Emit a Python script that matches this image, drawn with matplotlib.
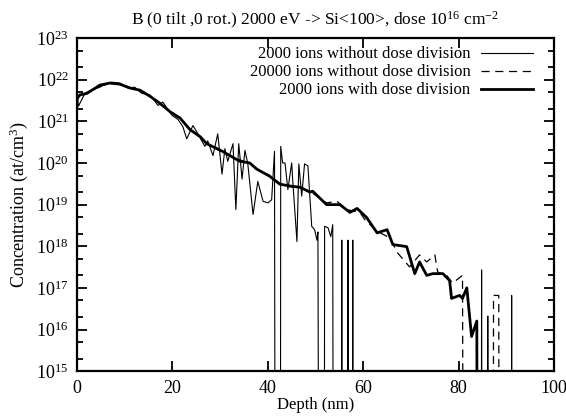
import numpy as np
import matplotlib
matplotlib.use("Agg")
import matplotlib.pyplot as plt
from matplotlib.ticker import LogLocator, FixedLocator, NullFormatter

plt.rcParams['font.family'] = ['Liberation Serif', 'DejaVu Serif']
plt.rcParams['mathtext.fontset'] = 'custom'
plt.rcParams['mathtext.rm'] = 'Liberation Serif'
plt.rcParams['mathtext.it'] = 'Liberation Serif:italic'

# 2000 ions with dose division (thick)
depth_div = [0, 0.6, 2.1, 4.8, 6.9, 9.0, 11.1, 13.2, 15.3, 17.4, 19.5, 21.6, 23.7, 25.8,
             27.2, 30.5, 34.1, 36.2, 37.7, 40.4, 42.5, 44.6, 46.8, 48.8, 49.4, 52.3, 55.1,
             57.2, 58.7, 60.7, 62.9, 65.0, 66.2, 69.1, 70.8, 71.8, 73.3, 74.6, 76.7, 78.1,
             78.5, 80.2, 80.8, 81.7, 82.7, 83.8, 84.0, 100]
conc_div = [3.5e21, 4.3e21, 4.7e21, 7.4e21, 8.3e21, 7.8e21, 6.3e21, 5.6e21, 4.0e21, 2.7e21,
            1.7e21, 1.2e21, 6.3e20, 4.3e20, 2.9e20, 1.9e20, 1.1e20, 1.0e20, 7.1e19, 4.8e19,
            3.1e19, 2.8e19, 2.6e19, 2.0e19, 2.1e19, 1.0e19, 1.0e19, 6.5e18, 8.1e18, 4.9e18,
            2.1e18, 2.5e18, 1.1e18, 9.8e17, 2.2e17, 4.2e17, 2.0e17, 2.2e17, 2.2e17, 1.5e17,
            5.6e16, 6.6e16, 5.6e16, 1.0e17, 6.8e15, 1.6e16, 0, 0]

# 20000 ions without dose division (dashed)
depth_20k = [0, 0.6, 2.1, 4.8, 6.9, 9.0, 11.1, 13.2, 15.3, 17.4, 19.5, 21.6, 23.7, 25.8,
             27.2, 30.5, 34.1, 36.2, 37.7, 40.4, 42.5, 44.6, 46.8, 48.8, 52.3, 54.5, 56.5,
             59.3, 60.3, 62.9, 65.5, 67.2, 69.7, 71.8, 73.3, 75.0, 75.6, 77.5, 78.7, 80.8,
             81.1, 87.2, 87.3, 88.4, 88.5, 100]
conc_20k = [3.0e21, 4.5e21, 5.0e21, 7.0e21, 8.0e21, 8.0e21, 6.5e21, 5.3e21, 4.1e21, 2.6e21,
            1.8e21, 1.1e21, 6.8e20, 4.0e20, 3.0e20, 1.8e20, 1.2e20, 9.5e19, 7.0e19, 5.0e19,
            3.2e19, 2.7e19, 2.5e19, 2.1e19, 1.1e19, 1.2e19, 7.6e18, 6.5e18, 4.4e18, 2.3e18,
            1.6e18, 6.9e17, 3.2e17, 6.2e17, 4.2e17, 6.2e17, 2.4e17, 2.0e17, 1.3e17, 2.0e17,
            0, 0, 6.6e16, 6.6e16, 0, 0]

# 2000 ions without dose division (thin, noisy, zero bins)
depth_2k = [0, 0.3, 1.5, 3.1, 4.8, 5.9, 7.3, 9.0, 10.7, 12.1, 13.6, 15.3, 17.0, 18.0, 19.9,
            21.2, 22.2, 23.0, 24.3, 25.1, 26.8, 27.4, 28.5, 29.5, 30.4, 31.0, 31.6, 32.7,
            33.3, 33.9, 34.6, 35.2, 35.8, 36.9, 37.9, 39.0, 40.0, 40.8, 41.4, 41.6, 42.6,
            42.7, 43.1, 43.6, 44.2, 45.0, 45.2, 46.1, 46.5, 47.1, 47.7, 48.4, 49.2, 49.8,
            50.3, 50.5, 50.8, 51.8, 51.9, 52.6, 53.2, 53.6, 53.8,
            55.4, 55.5, 55.6, 56.7, 56.8, 56.9, 57.7, 57.8, 57.9,
            84.7, 84.8, 84.9, 86.0, 86.1, 86.2, 91.0, 91.1, 91.2, 100]
conc_2k = [5.6e21, 2.3e21, 4.3e21, 5.6e21, 6.6e21, 7.8e21, 8.7e21, 8.3e21, 6.3e21, 6.6e21,
           4.7e21, 4.3e21, 2.4e21, 2.9e21, 1.4e21, 1.1e21, 7.4e20, 3.8e20, 7.9e20, 5.6e20,
           2.5e20, 3.4e20, 1.5e20, 5.0e20, 5.4e19, 2.2e20, 1.1e20, 2.9e20, 7.6e18, 2.9e20,
           4.1e19, 2.0e20, 9.6e19, 5.8e18, 3.6e19, 1.2e19, 1.1e19, 1.3e19, 1.9e20, 0, 0,
           2.5e20, 1.0e20, 1.0e20, 2.3e19, 1.0e20, 4.1e19, 1.3e18, 9.5e19, 1.6e19, 9.5e19,
           8.5e19, 3.0e18, 2.5e18, 1.4e18, 2.2e18, 0, 0, 3.0e18, 2.8e18, 1.7e18, 3.3e18, 0,
           0, 1.4e18, 0, 0, 1.4e18, 0, 0, 1.4e18, 0,
           0, 2.7e17, 0, 0, 2.1e16, 0, 0, 6.6e16, 0, 0]

# zero bins are drawn far below the axis so the lines drop out of the frame
floor = 1e5


def clip0(v):
    v = np.array(v, dtype=float)
    return np.where(v > 0, v, floor)


fig = plt.figure(figsize=(5.66, 4.18), dpi=100)
ax = fig.add_axes([0.136, 0.112, 0.843, 0.797])

ax.plot(depth_2k, clip0(conc_2k), color='black', lw=0.8,
        label='2000 ions without dose division')
ax.plot(depth_20k, clip0(conc_20k), color='black', lw=0.9, ls=(0, (6.5, 4.5)),
        label='20000 ions without dose division')
ax.plot(depth_div, clip0(conc_div), color='black', lw=2.0,
        label='2000 ions with dose division')

ax.set_yscale('log')
ax.set_xlim(0, 100)
ax.set_ylim(1e15, 1e23)
ax.xaxis.set_major_locator(FixedLocator([0, 20, 40, 60, 80, 100]))
ax.yaxis.set_major_locator(LogLocator(base=10, numticks=20))
ax.yaxis.set_minor_locator(LogLocator(base=10, subs=(2, 5), numticks=20))
ax.yaxis.set_minor_formatter(NullFormatter())
ax.tick_params(which='both', direction='in', top=True, right=True, labelsize=13)
ax.tick_params(which='major', length=7, width=1.3)
ax.tick_params(which='minor', length=4, width=1.3)
ax.tick_params(axis='y', which='major', pad=6)
ax.tick_params(axis='x', which='major', pad=6)
for s in ax.spines.values():
    s.set_linewidth(1.6)

ax.set_xlabel('Depth (nm)', fontsize=12, labelpad=0)
ax.set_ylabel('Concentration (at/cm$^3$)', fontsize=13)
ax.yaxis.set_label_coords(-0.098, 0.5)
ax.set_title('B (0 tilt ,0 rot.) 2000 eV -> Si<100>, dose 10$^{16}$ cm$^{-2}$',
             fontsize=12.5, pad=9)

leg = ax.legend(loc='upper right', bbox_to_anchor=(0.956, 0.975), frameon=False,
                fontsize=12, markerfirst=False, handlelength=3.1, handletextpad=0.65,
                labelspacing=0.12, borderpad=0, borderaxespad=0)
for t in leg.get_texts():
    t.set_ha('right')

fig.savefig('out.png', dpi=100)
